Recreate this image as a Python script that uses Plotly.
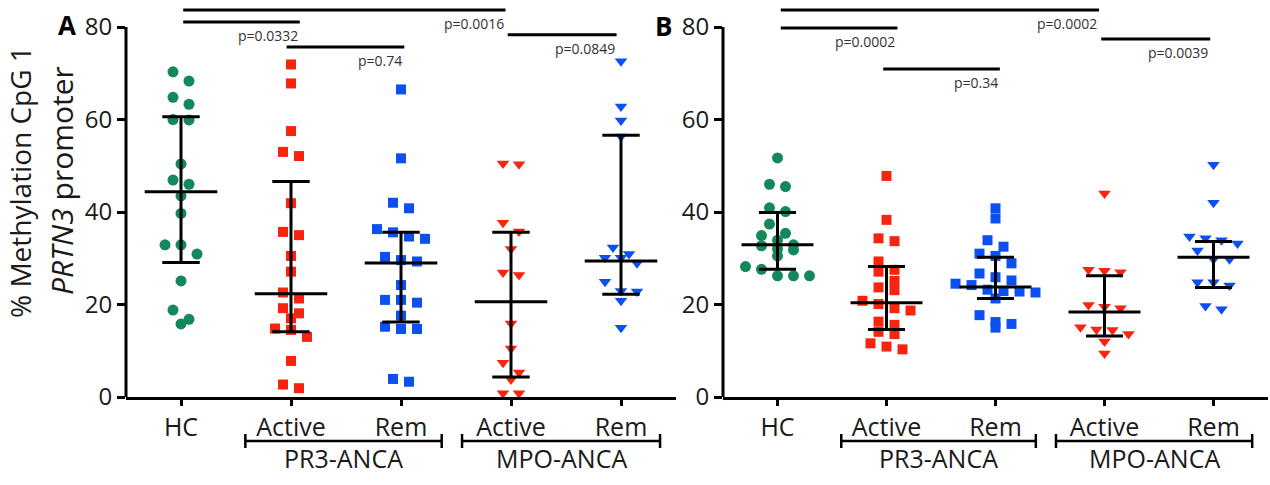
import plotly.graph_objects as go

# ---------------- data ----------------
categories = ["HC", "Active", "Rem", "Active", "Rem"]
band_labels = ["PR3-ANCA", "MPO-ANCA"]

A_HC = [70.3, 68.3, 64.8, 63.3, 60.0, 59.9, 50.4, 46.9, 46.0, 43.5, 39.7, 32.9, 32.9, 30.9, 25.1, 18.8, 16.8, 15.8]
A_PR3_Active = [71.9, 67.8, 57.5, 53.0, 52.1, 41.9, 35.7, 35.0, 30.5, 27.1, 22.6, 21.3, 19.2, 18.1, 17.0, 14.8, 14.5, 13.0, 7.8, 2.7, 1.9]
A_PR3_Rem = [66.5, 51.6, 42.0, 40.8, 36.3, 35.6, 34.7, 34.2, 30.3, 29.6, 29.3, 24.2, 21.0, 21.0, 20.4, 17.6, 15.2, 14.7, 14.7, 3.9, 3.3]
A_MPO_Active = [50.5, 50.3, 37.7, 35.8, 32.0, 26.9, 26.4, 15.9, 10.5, 7.4, 5.3, 3.8, 0.8, 0.8]
A_MPO_Rem = [72.6, 62.8, 59.8, 56.3, 32.3, 30.9, 30.1, 30.1, 28.9, 24.9, 22.9, 22.8, 20.8, 15.0]
A_median = [44.4, 22.3, 29.0, 20.6, 29.4]
A_q1 = [29.1, 14.1, 16.2, 4.3, 22.2]
A_q3 = [60.6, 46.6, 35.6, 35.6, 56.6]

B_HC = [51.7, 46.0, 45.5, 40.9, 40.1, 37.4, 35.4, 34.9, 33.9, 32.9, 32.7, 32.0, 31.8, 30.5, 28.2, 27.6, 26.2, 26.2, 26.2]
B_PR3_Active = [47.8, 38.3, 34.3, 33.7, 29.3, 27.5, 27.1, 25.1, 23.7, 23.1, 20.8, 20.1, 19.2, 18.7, 16.3, 15.6, 14.1, 13.6, 11.6, 10.9, 10.3]
B_PR3_Rem = [40.8, 38.6, 33.9, 32.5, 31.0, 30.5, 28.9, 26.7, 25.9, 25.2, 24.5, 24.2, 23.2, 22.9, 22.8, 22.6, 21.3, 17.7, 16.2, 15.8, 15.0]
B_MPO_Active = [44.0, 27.5, 27.3, 27.0, 19.9, 19.5, 19.2, 15.1, 14.6, 14.5, 13.6, 12.0, 9.4]
B_MPO_Rem = [50.2, 42.0, 34.7, 34.3, 33.9, 33.2, 31.7, 29.8, 29.8, 24.8, 24.8, 24.1, 19.7, 19.0]
B_median = [32.9, 20.4, 23.8, 18.4, 30.2]
B_q1 = [27.6, 14.6, 21.3, 13.2, 23.7]
B_q3 = [39.9, 28.2, 30.2, 26.2, 33.6]

A_p_labels = ["p=0.0016", "p=0.0332", "p=0.74", "p=0.0849"]
B_p_labels = ["p=0.0002", "p=0.0002", "p=0.34", "p=0.0039"]
y_ticks = [0, 20, 40, 60, 80]

# ---------------- layout constants ----------------
W, H = 1270, 485
PLOT_BOTTOM = 397          # pixel row of y = 0
PX_PER_UNIT = 4.625        # pixels per % unit
Y_TOP = PLOT_BOTTOM / PX_PER_UNIT
DOM_A = (126, 676)
DOM_B = (723, 1268)

FONT = "Open Sans"
GREEN, RED, BLUE = "#13885A", "#F8240E", "#0C50F2"
colors = [GREEN, RED, BLUE, RED, BLUE]
symbols = ["circle", "square", "square", "triangle-down", "triangle-down"]
msizes = [11, 10, 10, 11, 11]

# p-value bracket geometry (category units / % units)
A_p_geom = [(0.02, 2.95, 83.7), (0.02, 1.08, 81.1), (0.96, 2.03, 75.7), (2.97, 3.96, 78.3)]
B_p_geom = [(0.03, 2.95, 83.7), (0.03, 1.10, 79.8), (0.97, 2.04, 70.9), (2.97, 3.97, 77.4)]


def swarm_offsets(vals, row_h, step):
    order = sorted(range(len(vals)), key=lambda i: -vals[i])
    offs = [0.0] * len(vals)
    rows, cur, top = [], [], None
    for i in order:
        if cur and top - vals[i] < row_h:
            cur.append(i)
        else:
            if cur:
                rows.append(cur)
            cur, top = [i], vals[i]
    if cur:
        rows.append(cur)
    for r in rows:
        n = len(r)
        for k, i in enumerate(r):
            offs[i] = (k - (n - 1) / 2) * step
    return offs


fig = go.Figure()

panels = [
    ("x", "y", DOM_A, [A_HC, A_PR3_Active, A_PR3_Rem, A_MPO_Active, A_MPO_Rem], A_median, A_q1, A_q3, A_p_geom, A_p_labels),
    ("x2", "y2", DOM_B, [B_HC, B_PR3_Active, B_PR3_Rem, B_MPO_Active, B_MPO_Rem], B_median, B_q1, B_q3, B_p_geom, B_p_labels),
]

annotations = []
shapes = []


def xp(px):
    return px / W


def yp(py):
    return (PLOT_BOTTOM - py) / PLOT_BOTTOM


for xa, ya, dom, groups, med, q1, q3, pgeom, plabels in panels:
    cat_px = (dom[1] - dom[0]) / 5.0
    row_h = 10 / PX_PER_UNIT
    step = 16 / cat_px
    # points
    for gi, vals in enumerate(groups):
        offs = swarm_offsets(vals, row_h, step)
        fig.add_trace(go.Scatter(
            x=[gi + o for o in offs], y=vals, mode="markers", xaxis=xa, yaxis=ya,
            marker=dict(symbol=symbols[gi], color=colors[gi], size=msizes[gi], line=dict(width=0)),
            showlegend=False, hoverinfo="y"))
    # median + IQR
    for gi in range(5):
        c = gi
        fig.add_trace(go.Scatter(
            x=[c - 0.33, c + 0.33, None, c - 0.17, c + 0.17, None, c - 0.17, c + 0.17, None, c, c],
            y=[med[gi], med[gi], None, q1[gi], q1[gi], None, q3[gi], q3[gi], None, q1[gi], q3[gi]],
            mode="lines", xaxis=xa, yaxis=ya, line=dict(color="black", width=3),
            showlegend=False, hoverinfo="skip"))
    # p-value lines
    for (x0, x1, yv), lab in zip(pgeom, plabels):
        fig.add_trace(go.Scatter(x=[x0, x1], y=[yv, yv], mode="lines", xaxis=xa, yaxis=ya,
                                 line=dict(color="black", width=3), showlegend=False, hoverinfo="skip"))
        annotations.append(dict(x=x1, y=yv, xref=xa, yref=ya, text=lab, showarrow=False,
                                xanchor="right", yanchor="top", yshift=-2,
                                font=dict(family=FONT, size=14, color="#333333")))
    # y-axis line from 0 to 80
    shapes.append(dict(type="line", xref="paper", yref="paper",
                       x0=xp(dom[0]), x1=xp(dom[0]), y0=0, y1=80 / Y_TOP,
                       line=dict(color="black", width=3)))
    # group brackets below axis
    def cpx(c):
        return dom[0] + (c + 0.5) * cat_px
    for (c0, c1), lab in zip([(0.585, 2.37), (2.555, 4.355)], band_labels):
        x0p, x1p = cpx(c0), cpx(c1)
        shapes.append(dict(type="line", xref="paper", yref="paper", x0=xp(x0p), x1=xp(x1p),
                           y0=yp(441), y1=yp(441), line=dict(color="black", width=2.5)))
        for xx in (x0p, x1p):
            shapes.append(dict(type="line", xref="paper", yref="paper", x0=xp(xx), x1=xp(xx),
                               y0=yp(434), y1=yp(448), line=dict(color="black", width=2.5)))
        annotations.append(dict(x=xp((x0p + x1p) / 2), y=yp(458), xref="paper", yref="paper",
                                text=lab, showarrow=False, xanchor="center", yanchor="middle",
                                font=dict(family=FONT, size=25, color="#1a1a1a")))

# panel letters
annotations.append(dict(x=xp(67), y=yp(25), xref="paper", yref="paper", text="<b>A</b>", showarrow=False,
                        xanchor="center", yanchor="middle", font=dict(family=FONT, size=26, color="black")))
annotations.append(dict(x=xp(663), y=yp(26), xref="paper", yref="paper", text="<b>B</b>", showarrow=False,
                        xanchor="center", yanchor="middle", font=dict(family=FONT, size=26, color="black")))
# y-axis title (two lines)
annotations.append(dict(x=xp(20), y=yp(182), xref="paper", yref="paper", text="% Methylation CpG 1",
                        textangle=-90, showarrow=False, xanchor="center", yanchor="middle",
                        font=dict(family=FONT, size=28, color="#1a1a1a")))
annotations.append(dict(x=xp(62), y=yp(181), xref="paper", yref="paper", text="<i>PRTN3</i> promoter",
                        textangle=-90, showarrow=False, xanchor="center", yanchor="middle",
                        font=dict(family=FONT, size=30, color="#1a1a1a")))

xaxis_common = dict(range=[-0.5, 4.5], tickmode="array", tickvals=list(range(5)), ticktext=categories,
                    showline=True, linecolor="black", linewidth=3, ticks="outside", ticklen=6,
                    tickwidth=2.5, tickcolor="black", showgrid=False, zeroline=False,
                    tickfont=dict(family=FONT, size=25, color="#1a1a1a"), fixedrange=True)
yaxis_common = dict(range=[0, Y_TOP], tickmode="array", tickvals=y_ticks, ticktext=[str(t) for t in y_ticks],
                    showline=False, ticks="outside", ticklen=8, tickwidth=2.5, tickcolor="black",
                    showgrid=False, zeroline=False, domain=[0, 1],
                    tickfont=dict(family=FONT, size=24, color="#1a1a1a"), fixedrange=True)

fig.update_layout(
    width=W, height=H, paper_bgcolor="white", plot_bgcolor="white",
    margin=dict(l=0, r=0, t=0, b=H - PLOT_BOTTOM),
    xaxis=dict(domain=[xp(DOM_A[0]), xp(DOM_A[1])], anchor="y", **xaxis_common),
    yaxis=dict(anchor="x", **yaxis_common),
    xaxis2=dict(domain=[xp(DOM_B[0]), xp(DOM_B[1])], anchor="y2", **xaxis_common),
    yaxis2=dict(anchor="x2", **yaxis_common),
    annotations=annotations, shapes=shapes, showlegend=False,
)

fig.write_html("out.html")
